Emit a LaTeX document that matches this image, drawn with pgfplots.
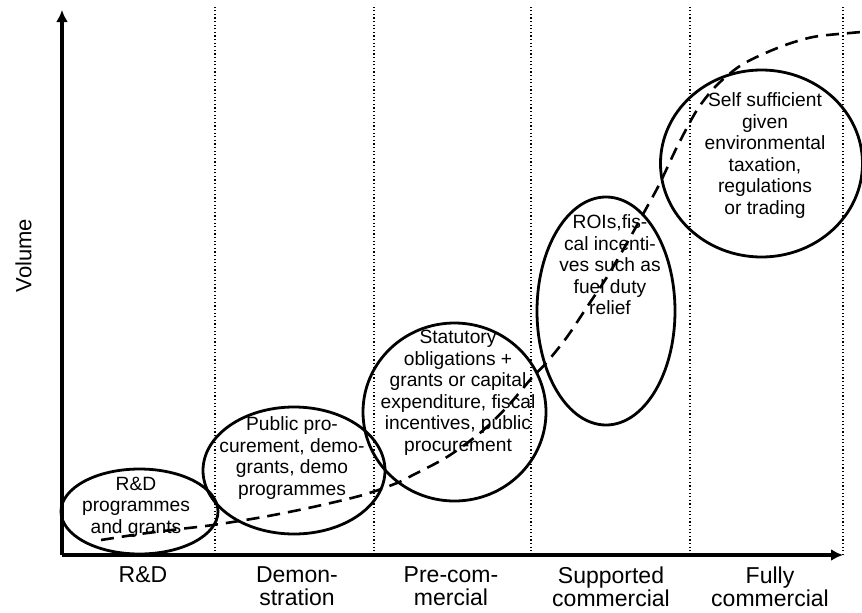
\documentclass[border=0pt]{standalone}
\usepackage{fontspec}
\setmainfont{Liberation Sans}
\usepackage{pgfplots}
\pgfplotsset{compat=1.18}
\usetikzlibrary{arrows.meta}
\begin{document}
\begin{tikzpicture}
\begin{axis}[
  scale only axis,
  width=390.5pt, height=272.5pt,
  xmin=62, xmax=843, ymin=0, ymax=545,
  axis lines=left,
  axis line style={line width=1.6pt, -{Latex[length=6pt,width=6pt]}},
  clip=false,
  ytick=\empty,
  xtick={143,297,451,611,770},
  xticklabels={{\raisebox{-4pt}{R\&D}},{Demon-\\stration},{Pre-com-\\mercial},{Supported\\commercial},{Fully\\commercial}},
  major tick length=0pt,
  tick style={draw=none},
  xticklabel style={align=center, font=\fontsize{11.5}{11.5}\selectfont, inner sep=0pt, anchor=north, yshift=-5.5pt},
  ylabel={Volume},
  ylabel style={at={(axis cs:32,299.5)}, anchor=south, inner sep=0pt, font=\fontsize{11}{13}\selectfont},
]
% stage boundaries
\addplot[black, line width=0.6pt, dash pattern=on 0.6pt off 1.2pt] coordinates {(215,0) (215,550)};
\addplot[black, line width=0.6pt, dash pattern=on 0.6pt off 1.2pt] coordinates {(374,0) (374,550)};
\addplot[black, line width=0.6pt, dash pattern=on 0.6pt off 1.2pt] coordinates {(531,0) (531,550)};
\addplot[black, line width=0.6pt, dash pattern=on 0.6pt off 1.2pt] coordinates {(690,0) (690,550)};
\addplot[black, line width=0.6pt, dash pattern=on 0.6pt off 1.2pt] coordinates {(843,0) (843,550)};
% S-curve
\addplot[black, line width=1.3pt, dash pattern=on 6.5pt off 4pt, smooth, tension=0.5] coordinates {
(101,15) (140,21) (180,26) (213,30) (263,38) (313,48) (363,60) (397,72) (413,80)
(447,98) (480,122) (507,148) (530,175) (547,193) (567,218) (587,248) (607,278)
(627,312) (647,348) (660,372) (677,408) (697,445) (717,470) (743,491) (780,508)
(813,518) (850,522) (862,523)};
% ellipses
\draw[line width=1.4pt] (axis cs:139.5,43.5) ellipse [x radius=39.25pt, y radius=21.25pt];
\draw[line width=1.4pt] (axis cs:294,84.5) ellipse [x radius=45.5pt, y radius=31.75pt];
\draw[line width=1.4pt] (axis cs:454.5,143) ellipse [x radius=45.75pt, y radius=44.5pt];
\draw[line width=1.4pt] (axis cs:606,244) ellipse [x radius=34.5pt, y radius=57pt];
\draw[line width=1.4pt] (axis cs:761.5,391.5) ellipse [x radius=50.5pt, y radius=46.75pt];
% texts
\begin{scope}[every node/.style={align=center, inner sep=0pt, font=\fontsize{9.6}{10.75}\selectfont}]
\node at (axis cs:136,48) {R\&D\\programmes\\and grants};
\node at (axis cs:292,97) {Public pro-\\curement, demo-\\grants, demo\\programmes};
\node at (axis cs:458,162) {Statutory\\obligations +\\grants or capital\\expenditure, fiscal\\incentives, public\\procurement};
\node at (axis cs:610,290) {ROIs,fis-\\cal incenti-\\ves such as\\fuel duty\\relief};
\node at (axis cs:765,399.5) {Self sufficient\\given\\environmental\\taxation,\\regulations\\or trading};
\end{scope}
\coordinate (BL) at (axis cs:0,-57);
\coordinate (TR) at (axis cs:862,555);
\end{axis}
\pgfresetboundingbox
\path (BL) rectangle (TR);
\end{tikzpicture}
\end{document}
